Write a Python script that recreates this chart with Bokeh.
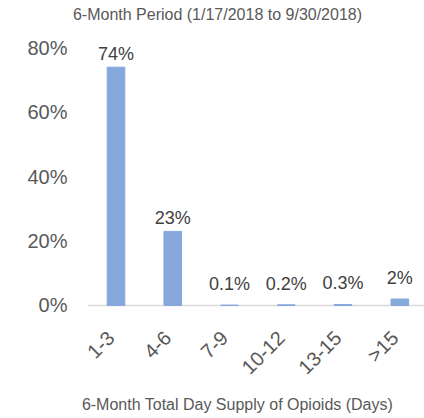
import numpy as np
from bokeh.plotting import figure
from bokeh.models import ColumnDataSource, Range1d, FixedTicker, LabelSet, Label, NumeralTickFormatter
from bokeh.core.properties import value
from bokeh.embed import file_html
from bokeh.resources import INLINE

categories = ["1-3", "4-6", "7-9", "10-12", "13-15", ">15"]
shares = [0.74, 0.23, 0.001, 0.002, 0.003, 0.02]
share_labels = ["74%", "23%", "0.1%", "0.2%", "0.3%", "2%"]
y_ticks = [0.0, 0.2, 0.4, 0.6, 0.8]
title_text = "6-Month Period (1/17/2018 to 9/30/2018)"
x_title_text = "6-Month Total Day Supply of Opioids (Days)"

FONT = "Liberation Sans"
GRAY = "#595959"

xpos = list(range(len(categories)))
# small bars get their labels lifted a little more (as in the original chart)
label_y = [v + (0.025 if v < 0.05 else 0.0) for v in shares]
zeros = [0.0] * len(categories)
src = ColumnDataSource(dict(x=xpos, top=shares, lab=share_labels, ly=label_y,
                            cat=categories, base=zeros))

X0, X1 = -0.8016, 5.435
p = figure(width=424, height=418, output_backend="svg", toolbar_location=None,
           x_range=Range1d(X0, X1), y_range=Range1d(-0.351, 0.947),
           x_axis_location=None,
           min_border_left=70, min_border_right=0, min_border_top=0, min_border_bottom=0)
p.outline_line_color = None
p.background_fill_color = "white"
p.border_fill_color = "white"

# x axis baseline (category band from first to last)
p.segment(x0=[-0.5], y0=[0], x1=[X1], y1=[0], line_color="#D9D9D9", line_width=1.5)

p.vbar(x="x", top="top", width=0.31, source=src, color="#86A8DC")

labels = LabelSet(x="x", y="ly", text="lab", source=src, text_align="center",
                  text_baseline="bottom", y_offset=3, text_font_size=value("18px"),
                  text_color=value("#404040"), text_font=value(FONT))
p.add_layout(labels)

cat_labels = LabelSet(x="x", y="base", text="cat", source=src, text_align="right",
                      text_baseline="middle", angle=np.pi / 4, x_offset=-5, y_offset=-29,
                      text_font_size=value("20px"), text_color=value(GRAY),
                      text_font=value(FONT))
p.add_layout(cat_labels)

p.add_layout(Label(x=147, y=404, x_units="screen", y_units="screen", text=title_text,
                   text_align="center", text_baseline="middle", text_font=FONT,
                   text_font_size="16px", text_color=GRAY))
p.add_layout(Label(x=167, y=14, x_units="screen", y_units="screen", text=x_title_text,
                   text_align="center", text_baseline="middle", text_font=FONT,
                   text_font_size="16px", text_color=GRAY))

p.xgrid.grid_line_color = None
p.ygrid.grid_line_color = None

ya = p.yaxis[0]
ya.ticker = FixedTicker(ticks=y_ticks)
ya.formatter = NumeralTickFormatter(format="0%")
ya.major_label_text_font = FONT
ya.major_label_text_font_size = "20px"
ya.major_label_text_color = GRAY
ya.axis_line_color = None
ya.major_tick_line_color = None
ya.minor_tick_line_color = None
ya.major_tick_out = 0
ya.major_label_standoff = 3

open("out.html", "w").write(file_html(p, INLINE))
